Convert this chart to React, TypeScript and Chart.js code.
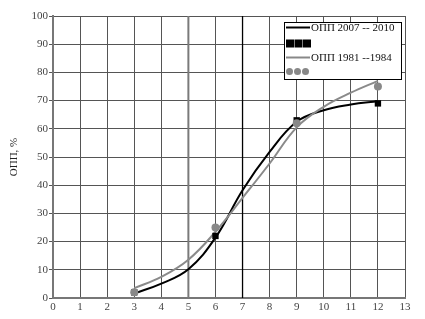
import React, { useEffect, useRef } from "react";
import { Chart, registerables } from "chart.js";

Chart.register(...registerables);

const xCurve = [3, 4, 5, 6, 7, 8, 9, 10, 11, 12];
const curve2007 = [1.6, 5.1, 10.2, 21.4, 38.2, 51.8, 62.5, 66.6, 68.6, 69.8];
const curve1981 = [3.5, 7.5, 13.6, 23.5, 35.5, 47.7, 60.5, 67.8, 72.8, 77];
const xPoints = [3, 6, 9, 12];
const points2007 = [2, 22, 63, 69];
const points1981 = [2, 25, 62, 75];
const markerLinesX = [5, 7];
const legendLabels = ["ОПП 2007 -- 2010", "ОПП 1981 --1984"];
const yTitle = "ОПП, %";

const FONT = "'Liberation Serif', 'DejaVu Serif', serif";

const vLinesPlugin = {
  id: "vLines",
  beforeDatasetsDraw(chart: any) {
    const { ctx, chartArea, scales } = chart;
    const styles = [
      { color: "#7a7a7a", width: 2 },
      { color: "#000000", width: 1.3 },
    ];
    markerLinesX.forEach((v, i) => {
      const px = scales.x.getPixelForValue(v);
      ctx.save();
      ctx.strokeStyle = styles[i].color;
      ctx.lineWidth = styles[i].width;
      ctx.beginPath();
      ctx.moveTo(px, chartArea.top);
      ctx.lineTo(px, chartArea.bottom);
      ctx.stroke();
      ctx.restore();
    });
  },
};

const legendPlugin = {
  id: "customLegend",
  afterDraw(chart: any) {
    const { ctx } = chart;
    const x0 = 284, y0 = 22, w = 117, h = 57;
    ctx.save();
    ctx.fillStyle = "#ffffff";
    ctx.fillRect(x0, y0, w, h);
    ctx.strokeStyle = "#000";
    ctx.lineWidth = 1;
    ctx.strokeRect(x0 + 0.5, y0 + 0.5, w, h);
    ctx.font = `11px ${FONT}`;
    ctx.textBaseline = "middle";
    ctx.fillStyle = "#111";
    ctx.strokeStyle = "#000";
    ctx.lineWidth = 2;
    ctx.beginPath();
    ctx.moveTo(286, 27.5);
    ctx.lineTo(310, 27.5);
    ctx.stroke();
    ctx.fillText(legendLabels[0], 311, 28);
    ctx.fillStyle = "#000";
    for (let i = 0; i < 3; i++) ctx.fillRect(286 + i * 8.5, 39.5, 8, 8);
    ctx.strokeStyle = "#888";
    ctx.lineWidth = 2;
    ctx.beginPath();
    ctx.moveTo(286, 57.5);
    ctx.lineTo(310, 57.5);
    ctx.stroke();
    ctx.fillStyle = "#111";
    ctx.fillText(legendLabels[1], 311, 58);
    ctx.fillStyle = "#888";
    for (let i = 0; i < 3; i++) {
      ctx.beginPath();
      ctx.arc(289.5 + i * 8, 71.5, 3.5, 0, Math.PI * 2);
      ctx.fill();
    }
    ctx.restore();
  },
};

export default function App() {
  const ref = useRef<HTMLCanvasElement>(null);
  useEffect(() => {
    if (!ref.current) return;
    const tickFont = { family: FONT, size: 11 };
    const chart = new Chart(ref.current, {
      type: "line",
      data: {
        datasets: [
          {
            label: "points1981",
            data: xPoints.map((x, i) => ({ x, y: points1981[i] })),
            showLine: false,
            pointStyle: "circle",
            pointRadius: 4,
            backgroundColor: "#888",
            borderColor: "#888",
            borderWidth: 0,
            order: 0,
          },
          {
            label: "points2007",
            data: xPoints.map((x, i) => ({ x, y: points2007[i] })),
            showLine: false,
            pointStyle: "rect",
            pointRadius: 4.5,
            backgroundColor: "#000",
            borderColor: "#000",
            borderWidth: 0,
            order: 1,
          },
          {
            label: legendLabels[1],
            data: xCurve.map((x, i) => ({ x, y: curve1981[i] })),
            borderColor: "#8a8a8a",
            borderWidth: 2,
            pointRadius: 0,
            tension: 0.4,
            fill: false,
            order: 2,
          },
          {
            label: legendLabels[0],
            data: xCurve.map((x, i) => ({ x, y: curve2007[i] })),
            borderColor: "#000",
            borderWidth: 2,
            pointRadius: 0,
            tension: 0.4,
            fill: false,
            order: 3,
          },
        ],
      },
      options: {
        responsive: false,
        animation: false,
        layout: { padding: { top: 16, right: 20, left: 0, bottom: 0 } },
        plugins: { legend: { display: false }, tooltip: { enabled: false } },
        scales: {
          x: {
            type: "linear",
            min: 0,
            max: 13,
            ticks: { stepSize: 1, color: "#444", font: tickFont, padding: 3 },
            grid: { color: "#555", drawTicks: false, lineWidth: 1 },
            border: { color: "#777", width: 2 },
            afterFit: (s: any) => {
              s.height = 21;
            },
          },
          y: {
            min: 0,
            max: 100,
            ticks: { stepSize: 10, color: "#444", font: tickFont, padding: 1 },
            grid: { color: "#555", tickLength: 4, lineWidth: 1 },
            border: { color: "#777", width: 2 },
            title: {
              display: true,
              text: yTitle,
              color: "#222",
              font: { family: FONT, size: 11 },
              padding: { top: 8, bottom: 0 },
            },
            afterFit: (s: any) => {
              s.width = 53;
            },
          },
        },
      },
      plugins: [vLinesPlugin, legendPlugin],
    } as any);
    return () => chart.destroy();
  }, []);
  return (
    <div style={{ position: "fixed", left: 0, top: 0, background: "#fff" }}>
      <canvas ref={ref} width={425} height={319} />
    </div>
  );
}
